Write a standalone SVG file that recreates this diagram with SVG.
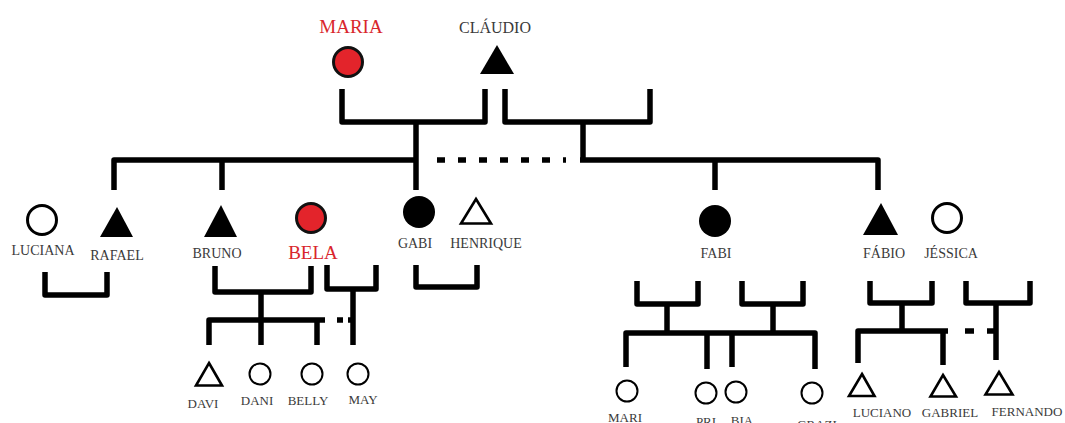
<svg xmlns="http://www.w3.org/2000/svg" width="1065" height="423" viewBox="0 0 1065 423">
  <style>
    .ln { fill: none; stroke: #000; stroke-width: 5.5; stroke-linejoin: round; stroke-linecap: butt; }
    .dash { fill: none; stroke: #000; stroke-width: 5.5; stroke-dasharray: 8 13; }
    .lbl { font-family: "Liberation Serif", "Times New Roman", serif; fill: #3a3a3a; text-anchor: middle; }
    .big { font-size: 14px; }
    .sm { font-size: 13px; }
    .red { fill: #d9262c; font-size: 19px; }
    .fem-red { fill: #e3242b; stroke: #111; stroke-width: 3; }
    .fem-open { fill: #fff; stroke: #000; stroke-width: 3; }
    .fem-kid { fill: #fff; stroke: #000; stroke-width: 2; }
    .fem-fill { fill: #000; }
    .male-fill { fill: #000; }
    .male-open { fill: #fff; stroke: #000; stroke-width: 2.6; stroke-linejoin: miter; }
  </style>

  <!-- connectors -->
  <g id="connectors">
    <!-- grandparents -->
    <path class="ln" d="M342 89 V122 H485 V89"/>
    <path class="ln" d="M505 89 V122 H650 V89"/>
    <path class="ln" d="M416 122 V190"/>
    <path class="ln" d="M583 122 V160"/>
    <!-- sibling line -->
    <path class="ln" d="M114 190 V160 H418"/>
    <path class="dash" d="M437 160 H566"/>
    <path class="ln" d="M580 160 H878 V190"/>
    <path class="ln" d="M222 160 V190"/>
    <path class="ln" d="M715 160 V190"/>

    <!-- couples -->
    <path class="ln" d="M45 272 V295 H107 V272"/>
    <path class="ln" d="M215 266 V292 H311 V266"/>
    <path class="ln" d="M327 265 V289 H376 V265"/>
    <path class="ln" d="M416 265 V287 H477 V265"/>
    <path class="ln" d="M637 281 V304 H698 V281"/>
    <path class="ln" d="M742 281 V304 H803 V281"/>
    <path class="ln" d="M870 281 V303 H932 V281"/>
    <path class="ln" d="M966 281 V303 H1030 V281"/>

    <!-- Bruno / Bela children -->
    <path class="ln" d="M261 292 V345"/>
    <path class="ln" d="M209 345 V320 H325"/>
    <path class="ln" d="M317 320 V345"/>
    <path class="ln" d="M337 320 H343"/>
    <path class="ln" d="M348 320 H353"/>
    <path class="ln" d="M353 289 V345"/>

    <!-- Fabi children -->
    <path class="ln" d="M667 304 V333"/>
    <path class="ln" d="M773 304 V333"/>
    <path class="ln" d="M626 367 V333 H815 V369"/>
    <path class="ln" d="M707 333 V369"/>
    <path class="ln" d="M732 333 V367"/>

    <!-- Fábio children -->
    <path class="ln" d="M902 303 V331"/>
    <path class="ln" d="M858 363 V331 H948"/>
    <path class="ln" d="M943 331 V365"/>
    <path class="ln" d="M965 331 H974"/>
    <path class="ln" d="M987 331 H996"/>
    <path class="ln" d="M996 303 V360"/>
  </g>

  <!-- first generation -->
  <g id="maria">
    <circle class="fem-red" cx="348" cy="62" r="14.5"/>
    <text class="lbl red" x="351" y="33">MARIA</text>
  </g>
  <g id="claudio">
    <polygon class="male-fill" points="497,45 514,74 480,74"/>
    <text class="lbl" style="font-size:16px" x="495" y="33">CLÁUDIO</text>
  </g>

  <!-- second generation -->
  <g id="luciana">
    <circle class="fem-open" cx="42" cy="220" r="14.5"/>
    <text class="lbl big" x="43" y="255">LUCIANA</text>
  </g>
  <g id="rafael">
    <polygon class="male-fill" points="117,207 133,237 100,237"/>
    <text class="lbl big" x="117" y="260">RAFAEL</text>
  </g>
  <g id="bruno">
    <polygon class="male-fill" points="221,205 237,237 204,237"/>
    <text class="lbl big" x="217" y="258">BRUNO</text>
  </g>
  <g id="bela">
    <circle class="fem-red" cx="311" cy="218" r="14.5"/>
    <text class="lbl red" x="313" y="259">BELA</text>
  </g>
  <g id="gabi">
    <circle class="fem-fill" cx="419" cy="212" r="16"/>
    <text class="lbl big" x="415" y="248">GABI</text>
  </g>
  <g id="henrique">
    <polygon class="male-open" points="476,199 491,223.5 461,223.5"/>
    <text class="lbl big" x="486" y="248">HENRIQUE</text>
  </g>
  <g id="fabi">
    <circle class="fem-fill" cx="715" cy="221" r="16"/>
    <text class="lbl big" x="716" y="258">FABI</text>
  </g>
  <g id="fabio">
    <polygon class="male-fill" points="881,203 898,235 863,235"/>
    <text class="lbl big" x="884" y="258">FÁBIO</text>
  </g>
  <g id="jessica">
    <circle class="fem-open" cx="947" cy="218" r="14.5"/>
    <text class="lbl big" x="951" y="258">JÉSSICA</text>
  </g>

  <!-- third generation -->
  <g id="davi">
    <polygon class="male-open" points="209,363 222,385.5 196,385.5"/>
    <text class="lbl sm" x="203" y="408">DAVI</text>
  </g>
  <g id="dani">
    <circle class="fem-kid" cx="260" cy="374" r="10.5"/>
    <text class="lbl sm" x="257" y="405">DANI</text>
  </g>
  <g id="belly">
    <circle class="fem-kid" cx="312" cy="374" r="10.5"/>
    <text class="lbl sm" x="308" y="405">BELLY</text>
  </g>
  <g id="may">
    <circle class="fem-kid" cx="358" cy="374" r="10.5"/>
    <text class="lbl sm" x="363" y="404">MAY</text>
  </g>
  <g id="mari">
    <circle class="fem-kid" cx="627" cy="391" r="10.5"/>
    <text class="lbl sm" x="625" y="422">MARI</text>
  </g>
  <g id="pri">
    <circle class="fem-kid" cx="706" cy="393" r="10.5"/>
    <text class="lbl sm" x="706" y="426">PRI</text>
  </g>
  <g id="bia">
    <circle class="fem-kid" cx="736" cy="392" r="10.5"/>
    <text class="lbl sm" x="742" y="425">BIA</text>
  </g>
  <g id="grazi">
    <circle class="fem-kid" cx="812" cy="393" r="10.5"/>
    <text class="lbl sm" x="817" y="429">GRAZI</text>
  </g>
  <g id="luciano">
    <polygon class="male-open" points="862,374 874.5,396 849,396"/>
    <text class="lbl sm" x="882" y="417">LUCIANO</text>
  </g>
  <g id="gabriel">
    <polygon class="male-open" points="943,375 956,396.5 930.5,396.5"/>
    <text class="lbl sm" x="950" y="417">GABRIEL</text>
  </g>
  <g id="fernando">
    <polygon class="male-open" points="999,372 1012.5,394.5 985.5,394.5"/>
    <text class="lbl sm" x="1027" y="416">FERNANDO</text>
  </g>
</svg>
